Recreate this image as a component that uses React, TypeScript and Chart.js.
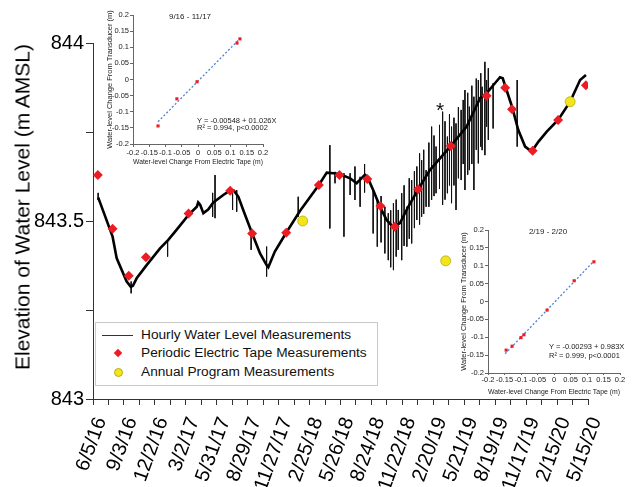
import React, { useEffect, useRef } from 'react';
import { Chart, registerables } from 'chart.js';
Chart.register(...registerables);

const FONT = '"Liberation Sans", Arial, Helvetica, sans-serif';

// ---- main chart axis labels ----
const xTickLabels = ['6/5/16', '9/3/16', '12/2/16', '3/2/17', '5/31/17', '8/29/17', '11/27/17', '2/25/18', '5/26/18', '8/24/18', '11/22/18', '2/20/19', '5/21/19', '8/19/19', '11/17/19', '2/15/20', '5/15/20'];
const yTickValues = [843, 843.25, 843.5, 843.75, 844];
const yTickLabels = ['843', '', '843.5', '', '844'];
const yTitle = 'Elevation of Water Level (m AMSL)';

// ---- main chart data (x = days since 6/5/16) ----
const hourlyDays = [15, 22, 57, 69, 98, 110, 116, 127, 156, 195, 219, 243, 278, 302, 306, 312, 321, 335, 350, 379, 394, 399, 410, 423, 437, 463, 486, 505, 510, 529, 562, 602, 657, 680, 699, 717, 748, 767, 791, 798, 815, 835, 854, 874, 893, 917, 946, 980, 1041, 1087, 1126, 1145, 1165, 1184, 1192, 1203, 1219, 1237, 1257, 1276, 1296, 1320, 1353, 1388, 1417, 1434];
const hourlyLevels = [843.566, 843.548, 843.456, 843.395, 843.330, 843.315, 843.318, 843.339, 843.376, 843.423, 843.447, 843.475, 843.517, 843.540, 843.552, 843.545, 843.522, 843.532, 843.552, 843.573, 843.583, 843.588, 843.585, 843.568, 843.531, 843.465, 843.409, 843.376, 843.370, 843.414, 843.467, 843.528, 843.601, 843.636, 843.634, 843.632, 843.620, 843.606, 843.630, 843.624, 843.587, 843.540, 843.503, 843.482, 843.494, 843.540, 843.589, 843.643, 843.711, 843.765, 843.845, 843.859, 843.882, 843.904, 843.901, 843.868, 843.821, 843.756, 843.709, 843.695, 843.723, 843.751, 843.784, 843.835, 843.896, 843.910];

const spikeDays = [15, 111, 217, 348, 355, 406, 418, 460, 505, 597, 689, 704, 730, 748, 762, 777, 790, 815, 827, 838, 849, 859, 866, 874, 882, 888, 898, 905, 913, 920, 927, 935, 942, 950, 956, 962, 969, 977, 985, 992, 998, 1008, 1017, 1024, 1031, 1037, 1043, 1050, 1056, 1063, 1071, 1077, 1082, 1090, 1095, 1102, 1108, 1115, 1121, 1128, 1132, 1140, 1145, 1150, 1164, 1234];
const spikeHighs = [843.579, 843.330, 843.447, 843.579, 843.629, 843.578, 843.587, 843.465, 843.428, 843.568, 843.713, 843.638, 843.634, 843.634, 843.653, 843.624, 843.660, 843.587, 843.559, 843.570, 843.540, 843.522, 843.530, 843.550, 843.560, 843.531, 843.578, 843.600, 843.540, 843.620, 843.615, 843.640, 843.653, 843.690, 843.671, 843.700, 843.643, 843.720, 843.765, 843.740, 843.709, 843.770, 843.807, 843.780, 843.737, 843.800, 843.765, 843.790, 843.774, 843.820, 843.812, 843.840, 843.868, 843.860, 843.821, 843.880, 843.849, 843.900, 843.896, 843.915, 843.877, 843.947, 843.896, 843.929, 843.887, 843.896];
const spikeLows = [843.559, 843.297, 843.400, 843.512, 843.508, 843.531, 843.526, 843.419, 843.344, 843.512, 843.479, 843.606, 843.456, 843.573, 843.559, 843.540, 843.580, 843.465, 843.428, 843.440, 843.409, 843.390, 843.370, 843.362, 843.400, 843.419, 843.390, 843.430, 843.428, 843.450, 843.437, 843.480, 843.503, 843.490, 843.512, 843.520, 843.540, 843.540, 843.559, 843.570, 843.578, 843.590, 843.545, 843.560, 843.578, 843.600, 843.550, 843.600, 843.531, 843.620, 843.615, 843.660, 843.587, 843.630, 843.643, 843.660, 843.587, 843.700, 843.662, 843.709, 843.699, 843.685, 843.765, 843.728, 843.760, 843.709];

const tapeDays = [14, 57, 104, 154, 278, 399, 463, 562, 657, 717, 798, 836, 878, 946, 1041, 1145, 1199, 1219, 1279, 1353, 1434];
const tapeLevels = [843.629, 843.478, 843.346, 843.398, 843.521, 843.585, 843.465, 843.467, 843.601, 843.629, 843.618, 843.542, 843.484, 843.589, 843.711, 843.852, 843.874, 843.814, 843.697, 843.784, 843.881];

const annualDays = [610, 1026, 1388];
const annualLevels = [843.500, 843.388, 843.835];

const legendLabels = ['Hourly Water Level Measurements', 'Periodic Electric Tape Measurements', 'Annual Program Measurements'];

// ---- insets ----
const insetTickValues = [-0.2, -0.15, -0.1, -0.05, 0, 0.05, 0.1, 0.15, 0.2];
const insetTickLabels = ['-0.2', '-0.15', '-0.1', '-0.05', '0', '0.05', '0.1', '0.15', '0.2'];
const insetXTitle = 'Water-level Change From Electric Tape (m)';
const insetYTitle = 'Water-level Change From Transducer (m)';

const inset1Title = '9/16 - 11/17';
const inset1Eq = ['Y = -0.00548 + 01.026X', 'R² = 0.994, p<0.0002'];
const inset1Tape = [-0.123, -0.065, -0.003, 0.120, 0.129];
const inset1Transducer = [-0.144, -0.060, -0.007, 0.113, 0.126];
const inset1FitX = [-0.123, 0.129];
const inset1FitY = [-0.131, 0.127];

const inset2Title = '2/19 - 2/20';
const inset2Eq = ['Y = -0.00293 + 0.983X', 'R² = 0.999, p<0.0001'];
const inset2Tape = [-0.145, -0.127, -0.100, -0.091, -0.021, 0.061, 0.121];
const inset2Transducer = [-0.136, -0.125, -0.101, -0.093, -0.024, 0.058, 0.111];
const inset2FitX = [-0.148, 0.121];
const inset2FitY = [-0.146, 0.113];

const RED = '#ec1c24';
const YELLOW = '#f3e51b';

function dayOf(label: string) {
  const [m, d, y] = label.split('/').map(Number);
  return Math.round((Date.UTC(2000 + y, m - 1, d) - Date.UTC(2016, 5, 5)) / 86400000);
}

function mainConfig(): any {
  const majors = xTickLabels.map(dayOf);
  const ticks: number[] = [];
  majors.forEach((v, i) => {
    ticks.push(v);
    if (i < majors.length - 1) ticks.push((v + majors[i + 1]) / 2);
  });
  const labelFor = (v: number) => {
    const i = majors.indexOf(v);
    return i >= 0 ? xTickLabels[i] : '';
  };
  const spikeData: any[] = [];
  spikeDays.forEach((d, i) => {
    spikeData.push({ x: d, y: spikeHighs[i] });
    spikeData.push({ x: d, y: spikeLows[i] });
    spikeData.push({ x: d, y: null });
  });
  return {
    type: 'line',
    data: {
      datasets: [
        {
          label: legendLabels[1],
          data: tapeDays.map((d, i) => ({ x: d, y: tapeLevels[i] })),
          showLine: false,
          pointStyle: 'rectRot',
          pointRadius: 5,
          backgroundColor: RED,
          borderColor: RED,
          borderWidth: 0,
        },
        {
          label: legendLabels[2],
          data: annualDays.map((d, i) => ({ x: d, y: annualLevels[i] })),
          showLine: false,
          pointStyle: 'circle',
          pointRadius: 5,
          backgroundColor: YELLOW,
          borderColor: '#b9ab10',
          borderWidth: 0.8,
        },
        {
          label: legendLabels[0],
          data: hourlyDays.map((d, i) => ({ x: d, y: hourlyLevels[i] })),
          borderColor: '#000',
          borderWidth: 2.6,
          pointRadius: 0,
          tension: 0,
        },
        {
          label: 'spikes',
          data: spikeData,
          borderColor: '#111',
          borderWidth: 1,
          pointRadius: 0,
          spanGaps: false,
        },
      ],
    },
    options: {
      responsive: false,
      animation: false,
      layout: { padding: { left: 0, right: 44, top: 43, bottom: 0 } },
      plugins: { legend: { display: false }, tooltip: { enabled: false } },
      scales: {
        x: {
          type: 'linear',
          min: 0,
          max: 1440,
          afterBuildTicks: (s: any) => { s.ticks = ticks.map((v) => ({ value: v })); },
          afterFit: (s: any) => { s.height = 88; },
          ticks: {
            autoSkip: false,
            minRotation: 70,
            maxRotation: 70,
            padding: 9,
            labelOffset: 8,
            color: '#000',
            font: { family: FONT, size: 20 },
            callback: (v: number) => labelFor(v),
          },
          grid: { drawOnChartArea: false, tickLength: 6, color: '#333' },
          border: { color: '#333', width: 1 },
        },
        y: {
          type: 'linear',
          min: 843,
          max: 844,
          afterBuildTicks: (s: any) => { s.ticks = yTickValues.map((v) => ({ value: v })); },
          afterFit: (s: any) => { s.width = 93; },
          ticks: {
            padding: 2,
            color: '#000',
            font: { family: FONT, size: 20 },
            callback: (v: number) => yTickLabels[yTickValues.indexOf(v)] ?? '',
          },
          grid: { drawOnChartArea: false, tickLength: 7, color: '#333' },
          border: { color: '#333', width: 1 },
        },
      },
    },
  };
}

function insetConfig(tape: number[], trans: number[], fitX: number[], fitY: number[], g: any): any {
  const axisColor = '#666';
  const txt = '#222';
  return {
    type: 'scatter',
    data: {
      datasets: [
        {
          data: tape.map((x, i) => ({ x, y: trans[i] })),
          pointStyle: 'rect',
          pointRadius: 2.2,
          backgroundColor: RED,
          borderColor: RED,
          borderWidth: 0,
        },
        {
          data: fitX.map((x, i) => ({ x, y: fitY[i] })),
          showLine: true,
          pointRadius: 0,
          borderColor: '#4f7fd6',
          borderWidth: 1.3,
          borderDash: [2, 2],
        },
      ],
    },
    options: {
      responsive: false,
      animation: false,
      layout: { padding: { left: 0, right: g.padRight, top: g.padTop, bottom: 0 } },
      plugins: { legend: { display: false }, tooltip: { enabled: false } },
      scales: {
        x: {
          type: 'linear',
          min: -0.2,
          max: 0.2,
          afterBuildTicks: (s: any) => { s.ticks = insetTickValues.map((v) => ({ value: v })); },
          afterFit: (s: any) => { s.height = g.xHeight; },
          ticks: {
            autoSkip: false, minRotation: 0, maxRotation: 0, padding: g.tickPad, color: txt,
            font: { family: FONT, size: 7.5 },
            callback: (v: number) => insetTickLabels[insetTickValues.indexOf(v)] ?? '',
          },
          grid: { drawOnChartArea: false, tickLength: g.tickLen, color: axisColor },
          border: { color: axisColor, width: 1 },
          title: { display: true, text: insetXTitle, color: txt, font: { family: FONT, size: 7.5 }, padding: 0 },
        },
        y: {
          type: 'linear',
          min: -0.2,
          max: 0.2,
          afterBuildTicks: (s: any) => { s.ticks = insetTickValues.map((v) => ({ value: v })); },
          afterFit: (s: any) => { s.width = g.yWidth; },
          ticks: {
            padding: 1, color: txt,
            font: { family: FONT, size: 7.5 },
            callback: (v: number) => insetTickLabels[insetTickValues.indexOf(v)] ?? '',
          },
          grid: { drawOnChartArea: false, tickLength: 3, color: axisColor },
          border: { color: axisColor, width: 1 },
          title: { display: true, text: insetYTitle, color: txt, font: { family: FONT, size: 7.5 }, padding: 0 },
        },
      },
    },
  };
}

const INSET1 = { left: 105, top: 0, width: 170, height: 166, padRight: 12, padTop: 15, xHeight: 22, yWidth: 28, tickLen: 3, tickPad: 1 };
const INSET2 = { left: 459, top: 222, width: 172, height: 174, padRight: 11, padTop: 8, xHeight: 23, yWidth: 29, tickLen: 2, tickPad: 0 };

const abs = (extra: any): any => ({ position: 'absolute', whiteSpace: 'nowrap', ...extra });

export default function App() {
  const mainRef = useRef<HTMLCanvasElement>(null);
  const in1Ref = useRef<HTMLCanvasElement>(null);
  const in2Ref = useRef<HTMLCanvasElement>(null);

  useEffect(() => {
    const charts: Chart[] = [];
    charts.push(new Chart(mainRef.current as HTMLCanvasElement, mainConfig()));
    charts.push(new Chart(in1Ref.current as HTMLCanvasElement, insetConfig(inset1Tape, inset1Transducer, inset1FitX, inset1FitY, INSET1)));
    charts.push(new Chart(in2Ref.current as HTMLCanvasElement, insetConfig(inset2Tape, inset2Transducer, inset2FitX, inset2FitY, INSET2)));
    return () => charts.forEach((c) => c.destroy());
  }, []);

  const smallText = { fontSize: 7.5, lineHeight: '8px', color: '#222' };

  return (
    <div style={{ position: 'fixed', left: 0, top: 0, width: 632, height: 487, background: '#fff', overflow: 'hidden', fontFamily: FONT }}>
      <canvas ref={mainRef} width={632} height={487} style={{ position: 'absolute', left: 0, top: 0, width: 632, height: 487 }} />
      <div style={abs({ left: 22, top: 206.5, fontSize: 21, lineHeight: '21px', color: '#000', transform: 'translate(-50%, -50%) rotate(-90deg)' })}>{yTitle}</div>
      <div style={abs({ left: 436, top: 99, fontSize: 21, lineHeight: '21px', color: '#111' })}>*</div>

      {/* legend */}
      <div style={abs({ left: 95, top: 322, width: 283, height: 64, border: '1px solid #c9c9c9', boxSizing: 'border-box', background: '#fff' })} />
      <div style={abs({ left: 102, top: 334.5, width: 31, height: 0, borderTop: '1.5px solid #333' })} />
      <div style={abs({ left: 115, top: 350, width: 6, height: 6, background: RED, transform: 'rotate(45deg)' })} />
      <div style={abs({ left: 113.5, top: 367.5, width: 9, height: 9, borderRadius: '50%', background: YELLOW, boxSizing: 'border-box', border: '0.8px solid #b9ab10' })} />
      {legendLabels.map((t, i) => (
        <div key={t} style={abs({ left: 141, top: [335, 353, 372][i], fontSize: 13.7, lineHeight: '14px', color: '#111', transform: 'translateY(-50%)' })}>{t}</div>
      ))}

      {/* inset 1 */}
      <canvas ref={in1Ref} width={INSET1.width} height={INSET1.height} style={{ position: 'absolute', left: INSET1.left, top: INSET1.top, width: INSET1.width, height: INSET1.height }} />
      <div style={abs({ left: 190, top: 17, ...smallText, fontSize: 8, transform: 'translate(-50%, -50%)' })}>{inset1Title}</div>
      <div style={abs({ left: 197, top: 117, ...smallText })}>{inset1Eq[0]}</div>
      <div style={abs({ left: 197, top: 124, ...smallText })}>{inset1Eq[1]}</div>

      {/* inset 2 */}
      <canvas ref={in2Ref} width={INSET2.width} height={INSET2.height} style={{ position: 'absolute', left: INSET2.left, top: INSET2.top, width: INSET2.width, height: INSET2.height }} />
      <div style={abs({ left: 548, top: 232, ...smallText, fontSize: 8, transform: 'translate(-50%, -50%)' })}>{inset2Title}</div>
      <div style={abs({ left: 549, top: 343, ...smallText })}>{inset2Eq[0]}</div>
      <div style={abs({ left: 549, top: 351.5, ...smallText })}>{inset2Eq[1]}</div>
    </div>
  );
}
